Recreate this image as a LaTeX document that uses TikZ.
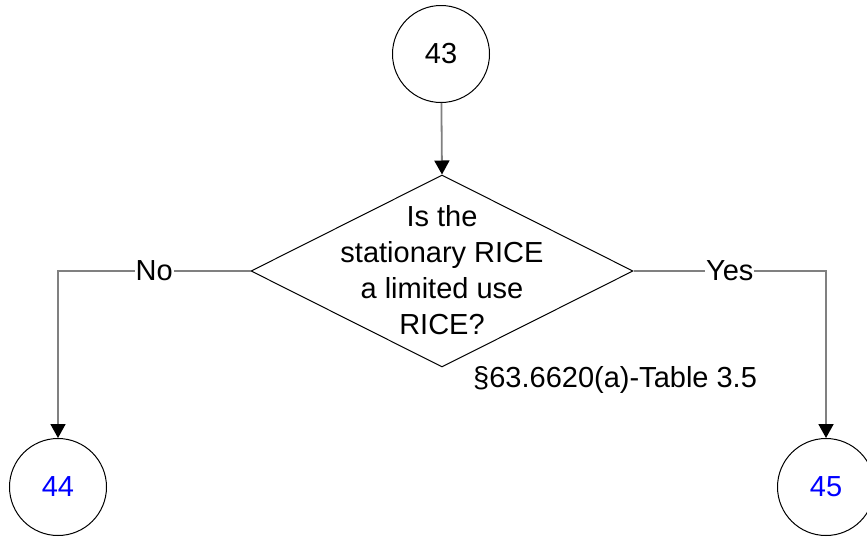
\documentclass[tikz,border=0pt]{standalone}
\usepackage{fontspec}
\setmainfont{Liberation Sans}
\usetikzlibrary{arrows.meta,shapes.geometric}
\definecolor{linegray}{HTML}{808080}
\definecolor{numblue}{HTML}{0000FF}
\begin{document}
\begin{tikzpicture}[x=1pt,y=-1pt,
  txt/.style={font=\fontsize{29}{36}\selectfont},
  circ/.style={circle, draw=black, line width=1pt, minimum size=97pt, inner sep=0pt, txt},
  conn/.style={draw=linegray, line width=1.8pt, -{Triangle[length=14pt,width=15pt,color=black,fill=black]}},
  lbl/.style={fill=white, inner sep=1pt, text=black, txt}]
\useasboundingbox (0,0) rectangle (867,536);
\node[circ] (c43) at (441,54) {43};
\node[draw=black, line width=1pt, diamond, minimum width=382pt, minimum height=192pt, inner sep=0pt] (d) at (442,271) {};
\node[txt, align=center] (q) at (442,270) {Is the\\stationary RICE\\a limited use\\RICE?};
\node[circ, text=numblue] (c44) at (58,487) {44};
\node[circ, text=numblue] (c45) at (826,487) {45};
\node[txt, anchor=base west, inner sep=0pt] (ref) at (473,387) {§63.6620(a)-Table 3.5};
\draw[conn] (c43) -- (d.north);
\draw[conn] (d.west) -| node[lbl, pos=0.25] {No} (c44.north);
\draw[conn] (d.east) -| node[lbl, pos=0.25] {Yes} (c45.north);
\end{tikzpicture}
\end{document}
